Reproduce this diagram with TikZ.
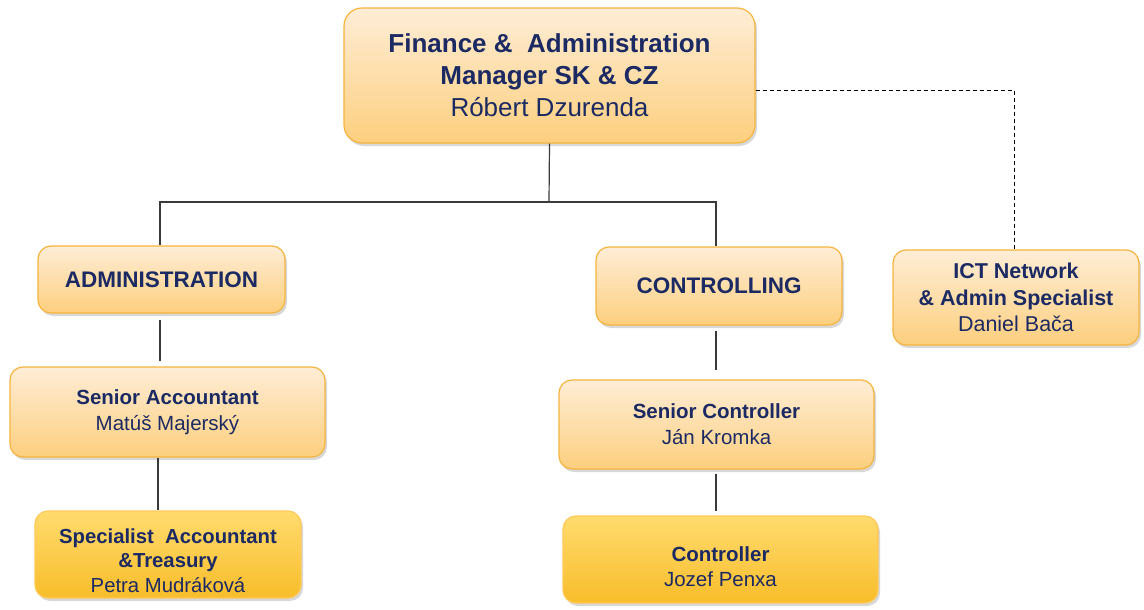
\documentclass[tikz,border=0pt]{standalone}
\usepackage{fontspec}
\setmainfont{Liberation Sans}
\usetikzlibrary{shadows}
\definecolor{navy}{HTML}{1B2A63}
\definecolor{lighttop}{HTML}{FEEDD6}
\definecolor{lightbot}{HTML}{FDCF7E}
\definecolor{darktop}{HTML}{FFDB6E}
\definecolor{darkbot}{HTML}{F8BD2A}
\definecolor{edgeorange}{HTML}{F6B43C}
\definecolor{linegray}{HTML}{3A3A3A}
\tikzset{
  box/.style={draw=edgeorange, line width=1.2pt, rounded corners=13pt,
    top color=lighttop, bottom color=lightbot, inner sep=0pt,
    text=navy, align=center,
    drop shadow={shadow xshift=2pt, shadow yshift=-3pt, opacity=0.3, fill=gray}},
  darkbox/.style={box, top color=darktop, bottom color=darkbot, draw=darktop!80!orange},
  txt/.style={text=navy, align=center, inner sep=0pt},
  conn/.style={draw=linegray, line width=1.2pt},
  dconn/.style={draw=black, line width=0.9pt, dash pattern=on 4pt off 3pt}
}
\begin{document}
\begin{tikzpicture}[x=1pt,y=-1pt]
\path[use as bounding box, fill=white] (0,0) rectangle (1144,610);

% boxes
\node[box, minimum width=411pt, minimum height=135pt, rounded corners=18pt,
  font=\fontsize{26}{32}\selectfont] (top) at (549.5,75.5)
  {\textbf{Finance \&\ \ Administration}\\
   \textbf{Manager SK \& CZ}\\
   Róbert Dzurenda};

\node[box, minimum width=247pt, minimum height=67pt,
  font=\fontsize{22.5}{26}\selectfont] (admin) at (161.5,279.5)
  {\textbf{ADMINISTRATION}};

\node[box, minimum width=246pt, minimum height=78pt,
  font=\fontsize{22.5}{26}\selectfont] (ctrl) at (719,286)
  {\textbf{CONTROLLING}};

\node[box, minimum width=246pt, minimum height=95pt,
  font=\fontsize{21.5}{26.5}\selectfont] (ict) at (1016,297.5)
  {\textbf{ICT Network}\\
   \textbf{\& Admin Specialist}\\
   Daniel Bača};

\node[box, minimum width=315pt, minimum height=90pt,
  font=\fontsize{20.5}{26}\selectfont] (sacc) at (167.5,412)
  {\textbf{Senior Accountant}\\
   Matúš Majerský};

\node[darkbox, minimum width=266pt, minimum height=87pt] (spec) at (168,554.5) {};
\node[txt, font=\fontsize{20.3}{24.5}\selectfont] (spectxt) at ([yshift=-6pt]spec.center)
  {\textbf{Specialist\ \ Accountant}\\
   \textbf{\&Treasury}\\
   Petra Mudráková};

\node[box, minimum width=315pt, minimum height=89pt,
  font=\fontsize{20.5}{26}\selectfont] (sctrl) at (716.5,424.5)
  {\textbf{Senior Controller}\\
   Ján Kromka};

\node[darkbox, minimum width=315pt, minimum height=87pt] (ctrlr) at (720.5,559.5) {};
\node[txt, font=\fontsize{20.5}{25}\selectfont] (ctrlrtxt) at ([yshift=-7pt]ctrlr.center)
  {\textbf{Controller}\\
   Jozef Penxa};

% connectors
\coordinate (bus) at (549,202);
\draw[conn] (top.south) -- (bus);
\draw[conn] (bus) -| ([xshift=-1.5pt]admin.north);
\draw[conn] (bus) -| ([xshift=-3pt]ctrl.north);
\draw[dconn] (top.east |- 0,90) -| (ict.north -| 1014,0);
\draw[conn, shorten <=6pt, shorten >=5pt] ([xshift=-1.5pt]admin.south) -- (sacc.north -| 160,0);
\draw[conn] (sacc.south -| 158,0) -- (spec.north -| 158,0);
\draw[conn, shorten <=5pt, shorten >=9pt] (ctrl.south -| 716,0) -- (sctrl.north -| 716,0);
\draw[conn, shorten <=4pt, shorten >=4pt] (sctrl.south -| 716,0) -- (ctrlr.north -| 716,0);
\end{tikzpicture}
\end{document}
